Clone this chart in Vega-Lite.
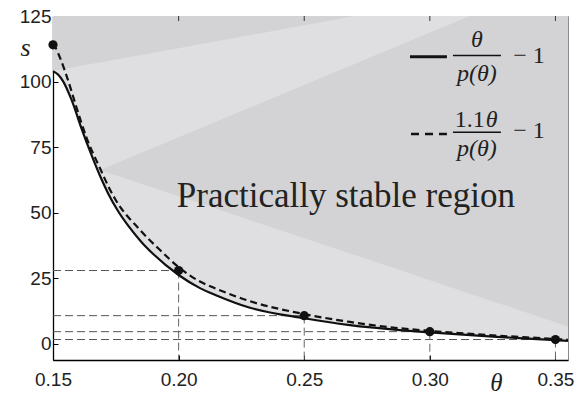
{
  "$schema": "https://vega.github.io/schema/vega-lite/v6.json",
  "width": 515,
  "height": 344,
  "autosize": {"type": "none"},
  "padding": {"left": 53, "top": 16, "right": 8, "bottom": 34},
  "background": "white",
  "config": {
    "view": {"stroke": "#8c8c8c", "strokeWidth": 1},
    "axis": {"grid": false}
  },
  "datasets": {
    "solid": [
      {"t": 0.150, "s": 104, "top": 125}, {"t": 0.1521, "s": 102.6, "top": 125}, {"t": 0.1541, "s": 100, "top": 125}, {"t": 0.1574, "s": 93, "top": 125},
      {"t": 0.1614, "s": 82, "top": 125}, {"t": 0.165, "s": 72.8, "top": 125}, {"t": 0.1687, "s": 64.1, "top": 125}, {"t": 0.172, "s": 57.3, "top": 125},
      {"t": 0.176, "s": 50.5, "top": 125}, {"t": 0.18, "s": 45, "top": 125}, {"t": 0.185, "s": 39.1, "top": 125}, {"t": 0.19, "s": 34.2, "top": 125},
      {"t": 0.2, "s": 26.3, "top": 125}, {"t": 0.2085, "s": 21.3, "top": 125}, {"t": 0.2151, "s": 18.5, "top": 125}, {"t": 0.2284, "s": 13.8, "top": 125},
      {"t": 0.25, "s": 9.8, "top": 125}, {"t": 0.2682, "s": 7.2, "top": 125}, {"t": 0.288, "s": 5.3, "top": 125}, {"t": 0.30, "s": 4.4, "top": 125},
      {"t": 0.325, "s": 2.8, "top": 125}, {"t": 0.35, "s": 1.5, "top": 125}, {"t": 0.355, "s": 1.2, "top": 125}
    ],
    "dashed": [
      {"t": 0.150, "s": 114.5}, {"t": 0.1508, "s": 113.3}, {"t": 0.1534, "s": 107.6}, {"t": 0.156, "s": 100.5},
      {"t": 0.1594, "s": 90}, {"t": 0.1634, "s": 78.5}, {"t": 0.1687, "s": 67}, {"t": 0.1726, "s": 59},
      {"t": 0.1749, "s": 55}, {"t": 0.1846, "s": 43.5}, {"t": 0.1926, "s": 35.8}, {"t": 0.2, "s": 29.3},
      {"t": 0.2085, "s": 23.8}, {"t": 0.2151, "s": 21.0}, {"t": 0.2284, "s": 16.3}, {"t": 0.25, "s": 11.4},
      {"t": 0.2682, "s": 8.4}, {"t": 0.288, "s": 6.0}, {"t": 0.30, "s": 5.0}, {"t": 0.325, "s": 3.3},
      {"t": 0.35, "s": 1.9}, {"t": 0.355, "s": 1.6}
    ],
    "regA": [
      {"t": 0.150, "lo": 104, "hi": 104}, {"t": 0.1521, "lo": 102.6, "hi": 104.4}, {"t": 0.1541, "lo": 100, "hi": 104.7},
      {"t": 0.1574, "lo": 93, "hi": 105.3}, {"t": 0.1614, "lo": 82, "hi": 106}, {"t": 0.165, "lo": 72.8, "hi": 106.7},
      {"t": 0.1687, "lo": 64.1, "hi": 107.3}, {"t": 0.1688, "lo": 66.3, "hi": 107.3}, {"t": 0.2702, "lo": 106.8, "hi": 125},
      {"t": 0.3159, "lo": 125, "hi": 125}
    ],
    "regB": [
      {"t": 0.1687, "lo": 64.1, "hi": 66.3}, {"t": 0.172, "lo": 57.3, "hi": 65.2}, {"t": 0.176, "lo": 50.5, "hi": 64},
      {"t": 0.18, "lo": 45, "hi": 62.7}, {"t": 0.185, "lo": 39.1, "hi": 61.1}, {"t": 0.19, "lo": 34.2, "hi": 59.5},
      {"t": 0.2, "lo": 26.3, "hi": 56.3}, {"t": 0.2085, "lo": 21.3, "hi": 53.6}, {"t": 0.2151, "lo": 18.5, "hi": 51.5},
      {"t": 0.2284, "lo": 13.8, "hi": 47.2}, {"t": 0.25, "lo": 9.8, "hi": 40.3}, {"t": 0.2682, "lo": 7.2, "hi": 34.5},
      {"t": 0.288, "lo": 5.3, "hi": 28.2}, {"t": 0.30, "lo": 4.4, "hi": 24.3}, {"t": 0.325, "lo": 2.8, "hi": 16.3},
      {"t": 0.35, "lo": 1.5, "hi": 8.3}, {"t": 0.355, "lo": 1.2, "hi": 6.7}
    ],
    "pts": [
      {"t": 0.15, "s": 114}, {"t": 0.2, "s": 28}, {"t": 0.25, "s": 10.8}, {"t": 0.3, "s": 4.7}, {"t": 0.35, "s": 1.7}
    ],
    "guides": [
      {"t0": 0.15, "t": 0.2, "s": 28, "sb": -6.1}, {"t0": 0.15, "t": 0.25, "s": 10.8, "sb": -6.1},
      {"t0": 0.15, "t": 0.3, "s": 4.7, "sb": -6.1}, {"t0": 0.15, "t": 0.35, "s": 1.7, "sb": -6.1}
    ],
    "topticks": [
      {"t": 0.2, "a": 125, "b": 123.1}, {"t": 0.25, "a": 125, "b": 123.1}, {"t": 0.3, "a": 125, "b": 123.1}, {"t": 0.35, "a": 125, "b": 123.1}
    ]
  },
  "layer": [
    {
      "data": {"name": "solid"},
      "mark": {"type": "area", "color": "#d3d3d5", "interpolate": "monotone"},
      "encoding": {
        "x": {
          "field": "t", "type": "quantitative",
          "scale": {"domain": [0.15, 0.355], "nice": false, "zero": false},
          "axis": {
            "orient": "bottom", "values": [0.15, 0.2, 0.25, 0.3, 0.35], "format": ".2f",
            "tickSize": -5, "tickColor": "#000", "tickWidth": 1,
            "domainColor": "#000", "domainWidth": 1.3,
            "labelPadding": 15, "labelFontSize": 19, "labelFont": "Liberation Sans", "labelColor": "#222", "labelFlush": false,
            "title": "θ", "titleFont": "Liberation Serif, DejaVu Serif", "titleFontStyle": "italic", "titleFontWeight": "normal",
            "titleFontSize": 25, "titleColor": "#222", "titleX": 443, "titleY": 30, "titleAlign": "center", "titleBaseline": "alphabetic"
          }
        },
        "y": {
          "field": "s", "type": "quantitative",
          "scale": {"domain": [-6.1, 125], "nice": false, "zero": false},
          "axis": {
            "values": [0, 25, 50, 75, 100, 125],
            "tickSize": -5, "tickColor": "#000", "tickWidth": 1,
            "domainColor": "#000", "domainWidth": 1.3,
            "labelPadding": 7, "labelFontSize": 19, "labelFont": "Liberation Sans", "labelColor": "#222",
            "title": "s", "titleFont": "Liberation Serif, DejaVu Serif", "titleFontStyle": "italic", "titleFontWeight": "normal",
            "titleFontSize": 26, "titleColor": "#222", "titleAngle": 0, "titleX": -28, "titleY": 39,
            "titleAlign": "center", "titleBaseline": "alphabetic"
          }
        },
        "y2": {"field": "top"}
      }
    },
    {
      "data": {"name": "regA"},
      "mark": {"type": "area", "color": "#dfdfe1"},
      "encoding": {
        "x": {"field": "t", "type": "quantitative"},
        "y": {"field": "lo", "type": "quantitative"},
        "y2": {"field": "hi"}
      }
    },
    {
      "data": {"name": "regB"},
      "mark": {"type": "area", "color": "#dfdfe1"},
      "encoding": {
        "x": {"field": "t", "type": "quantitative"},
        "y": {"field": "lo", "type": "quantitative"},
        "y2": {"field": "hi"}
      }
    },
    {
      "data": {"name": "topticks"},
      "mark": {"type": "rule", "color": "#333", "strokeWidth": 1},
      "encoding": {
        "x": {"field": "t", "type": "quantitative"},
        "y": {"field": "a", "type": "quantitative"},
        "y2": {"field": "b"}
      }
    },
    {
      "data": {"name": "guides"},
      "mark": {"type": "rule", "color": "#555", "strokeWidth": 1, "strokeDash": [8, 4]},
      "encoding": {
        "x": {"field": "t0", "type": "quantitative"},
        "x2": {"field": "t"},
        "y": {"field": "s", "type": "quantitative"}
      }
    },
    {
      "data": {"name": "guides"},
      "mark": {"type": "rule", "color": "#666", "strokeWidth": 1, "strokeDash": [8, 4]},
      "encoding": {
        "x": {"field": "t", "type": "quantitative"},
        "y": {"field": "s", "type": "quantitative"},
        "y2": {"field": "sb"}
      }
    },
    {
      "data": {"name": "solid"},
      "mark": {"type": "line", "color": "#111", "strokeWidth": 2.2, "interpolate": "monotone"},
      "encoding": {
        "x": {"field": "t", "type": "quantitative"},
        "y": {"field": "s", "type": "quantitative"}
      }
    },
    {
      "data": {"name": "dashed"},
      "mark": {"type": "line", "color": "#111", "strokeWidth": 2.2, "strokeDash": [7, 4], "interpolate": "monotone"},
      "encoding": {
        "x": {"field": "t", "type": "quantitative"},
        "y": {"field": "s", "type": "quantitative"}
      }
    },
    {
      "data": {"name": "pts"},
      "mark": {"type": "circle", "color": "#111", "size": 85, "opacity": 1},
      "encoding": {
        "x": {"field": "t", "type": "quantitative"},
        "y": {"field": "s", "type": "quantitative"}
      }
    },
    {
      "data": {"values": [{"t": 0.2666, "s": 52.3, "label": "Practically stable region"}]},
      "mark": {"type": "text", "font": "Liberation Serif", "fontSize": 35, "align": "center", "baseline": "alphabetic", "color": "#222"},
      "encoding": {
        "x": {"field": "t", "type": "quantitative"},
        "y": {"field": "s", "type": "quantitative"},
        "text": {"field": "label"}
      }
    },
    {
      "data": {"values": [{"x1": 0.2921, "x2": 0.3068, "y": 109.5}]},
      "mark": {"type": "rule", "color": "#111", "strokeWidth": 3},
      "encoding": {
        "x": {"field": "x1", "type": "quantitative"},
        "x2": {"field": "x2"},
        "y": {"field": "y", "type": "quantitative"}
      }
    },
    {
      "data": {"values": [{"x1": 0.2925, "x2": 0.3068, "y": 80}]},
      "mark": {"type": "rule", "color": "#111", "strokeWidth": 2.5, "strokeDash": [8, 6]},
      "encoding": {
        "x": {"field": "x1", "type": "quantitative"},
        "x2": {"field": "x2"},
        "y": {"field": "y", "type": "quantitative"}
      }
    },
    {
      "data": {"values": [{"x1": 0.3092, "x2": 0.3283, "y": 109.9}, {"x1": 0.3092, "x2": 0.3283, "y": 80.7}]},
      "mark": {"type": "rule", "color": "#111", "strokeWidth": 1.5},
      "encoding": {
        "x": {"field": "x1", "type": "quantitative"},
        "x2": {"field": "x2"},
        "y": {"field": "y", "type": "quantitative"}
      }
    },
    {
      "data": {"values": [
        {"x": 0.3187, "y": 113.3, "label": "θ"},
        {"x": 0.3187, "y": 100.4, "label": "p(θ)"},
        {"x": 0.3187, "y": 71.7, "label": "p(θ)"}
      ]},
      "mark": {"type": "text", "font": "Liberation Serif, DejaVu Serif", "fontStyle": "italic", "fontSize": 24, "align": "center", "baseline": "alphabetic", "color": "#222"},
      "encoding": {
        "x": {"field": "x", "type": "quantitative"},
        "y": {"field": "y", "type": "quantitative"},
        "text": {"field": "label"}
      }
    },
    {
      "data": {"values": [{"x": 0.3223, "y": 82.8, "label": "θ"}]},
      "mark": {"type": "text", "font": "Liberation Serif, DejaVu Serif", "fontStyle": "italic", "fontSize": 24, "align": "left", "baseline": "alphabetic", "color": "#222"},
      "encoding": {
        "x": {"field": "x", "type": "quantitative"},
        "y": {"field": "y", "type": "quantitative"},
        "text": {"field": "label"}
      }
    },
    {
      "data": {"values": [{"x": 0.3219, "y": 82.8, "label": "1.1"}]},
      "mark": {"type": "text", "font": "Liberation Serif", "fontSize": 24, "align": "right", "baseline": "alphabetic", "color": "#222"},
      "encoding": {
        "x": {"field": "x", "type": "quantitative"},
        "y": {"field": "y", "type": "quantitative"},
        "text": {"field": "label"}
      }
    },
    {
      "data": {"values": [{"x": 0.3395, "y": 107.1, "label": "− 1"}, {"x": 0.3395, "y": 78.4, "label": "− 1"}]},
      "mark": {"type": "text", "font": "Liberation Serif", "fontSize": 24, "align": "center", "baseline": "alphabetic", "color": "#222"},
      "encoding": {
        "x": {"field": "x", "type": "quantitative"},
        "y": {"field": "y", "type": "quantitative"},
        "text": {"field": "label"}
      }
    }
  ]
}
